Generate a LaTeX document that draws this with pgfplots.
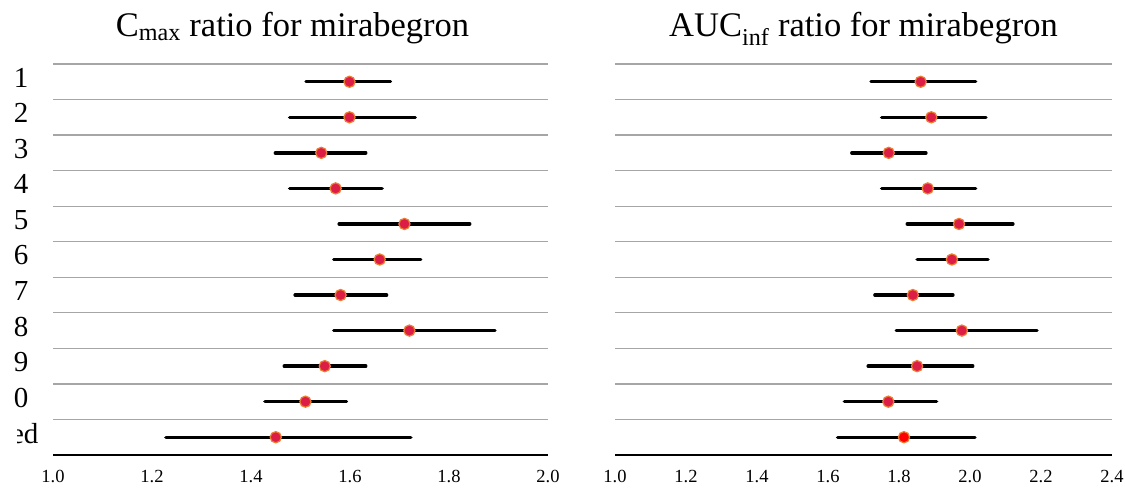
\documentclass[border=0pt]{standalone}
\usepackage{pgfplots}
\pgfplotsset{compat=1.18}
\usepackage{pgfplotstable}
\usepackage{fontspec}
\setmainfont{Liberation Serif}
\definecolor{dotred}{RGB}{220,30,70}
\definecolor{dotedge}{RGB}{237,125,49}
\definecolor{gridgray}{RGB}{166,166,166}

\pgfplotstableread{
row est lo hi
11 1.599 1.511 1.682
10 1.599 1.478 1.732
9 1.542 1.449 1.632
8 1.571 1.478 1.665
7 1.710 1.578 1.842
6 1.660 1.567 1.743
5 1.581 1.489 1.674
4 1.720 1.567 1.893
3 1.549 1.467 1.632
2 1.510 1.428 1.593
1 1.450 1.228 1.723
}\cmaxdata

\pgfplotstableread{
row est lo hi
11 1.861 1.721 2.016
10 1.891 1.751 2.045
9 1.771 1.667 1.876
8 1.881 1.751 2.016
7 1.969 1.823 2.121
6 1.949 1.851 2.051
5 1.839 1.732 1.952
4 1.977 1.792 2.189
3 1.851 1.713 2.008
2 1.770 1.646 1.906
}\aucdata

\pgfplotstableread{
row est lo hi
1 1.814 1.627 2.014
}\aucpooled

\pgfplotsset{forest/.style={
  scale only axis, height=391pt, ymin=0.5, ymax=11.5,
  axis x line=bottom, axis y line=left,
  y axis line style={draw=none},
  x axis line style={-, black, line width=1.5pt},
  major tick length=0pt, minor tick length=0pt,
  ytick={1,...,11}, minor ytick={1.5,2.5,...,11.5},
  yminorgrids, minor grid style={gridgray, line width=1.3pt},
  /pgf/number format/assume math mode=true,
  xticklabel style={font=\fontsize{18.5}{20}\selectfont, /pgf/number format/.cd, fixed, fixed zerofill, precision=1},
  xticklabel shift=12pt,
  yticklabel style={font=\fontsize{29}{32}\selectfont, yshift=4pt},
  yticklabel shift=21pt,
  title style={at={(0.5,1)}, anchor=base, yshift=21pt, font=\fontsize{34.5}{40}\selectfont},
  clip=false,
},
cibar/.style={draw=none, mark=none, forget plot,
  error bars/.cd, x dir=both, x explicit, error mark=none,
  error bar style={draw=black, line width=3.3pt, line cap=round}},
dots/.style={only marks, mark=*, mark size=5.6pt,
  mark options={fill=#1, draw=dotedge, line width=1.2pt}}
}

\begin{document}
\begin{tikzpicture}
\useasboundingbox (0,0) rectangle (1125pt,490pt);
\begin{axis}[forest, at={(53pt,35pt)}, anchor=south west, width=495pt,
  xmin=1, xmax=2, xtick={1.0,1.2,1.4,1.6,1.8,2.0},
  yticklabels={ed\hspace*{-10pt},0,9,8,7,6,5,4,3,2,1},
  title style={xshift=-8pt},
  title={C\textsubscript{max} ratio for mirabegron}]
\addplot[cibar] table[x=est, y=row, x error plus expr=\thisrow{hi}-\thisrow{est}, x error minus expr=\thisrow{est}-\thisrow{lo}] {\cmaxdata};
\addplot[dots=dotred] table[x=est, y=row] {\cmaxdata};
\end{axis}
\begin{axis}[forest, at={(615pt,35pt)}, anchor=south west, width=497pt,
  xmin=1, xmax=2.4, xtick={1.0,1.2,1.4,1.6,1.8,2.0,2.2,2.4},
  yticklabels={},
  title={AUC\textsubscript{inf} ratio for mirabegron}]
\addplot[cibar] table[x=est, y=row, x error plus expr=\thisrow{hi}-\thisrow{est}, x error minus expr=\thisrow{est}-\thisrow{lo}] {\aucdata};
\addplot[cibar] table[x=est, y=row, x error plus expr=\thisrow{hi}-\thisrow{est}, x error minus expr=\thisrow{est}-\thisrow{lo}] {\aucpooled};
\addplot[dots=dotred] table[x=est, y=row] {\aucdata};
\addplot[dots=red] table[x=est, y=row] {\aucpooled};
\end{axis}
\fill[white] (-20pt,38pt) rectangle (17pt,72pt);
\end{tikzpicture}
\end{document}
